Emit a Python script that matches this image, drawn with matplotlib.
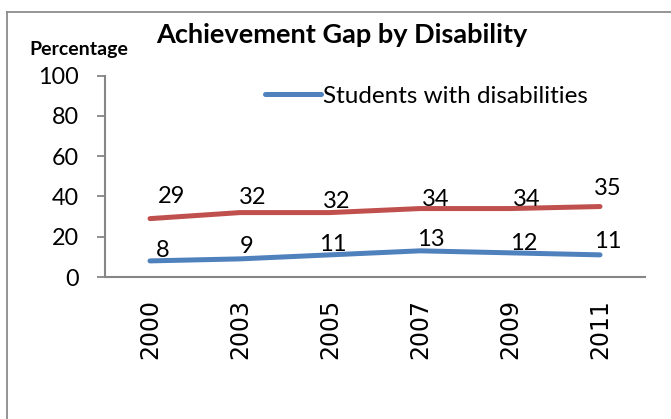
import matplotlib
matplotlib.use('Agg')
import matplotlib.pyplot as plt
from matplotlib.lines import Line2D

years = ['2000', '2003', '2005', '2007', '2009', '2011']
with_disab = [8, 9, 11, 13, 12, 11]
without_disab = [29, 32, 32, 34, 34, 35]
y_ticks = [0, 20, 40, 60, 80, 100]

# hand-placed data label nudges, in pixels (dx, dy)
red_nudge = [(22, 22), (13, 15), (7, 11), (16, 9), (17, 9), (8, 18)]
blue_nudge = [(13, 10), (7, 12), (3, 10), (11, 11), (14, 9), (8, 13)]

blue = '#4F81BD'
red = '#C0504D'
axis_gray = '#868686'

W, H = 671, 419
fig = plt.figure(figsize=(W / 100, H / 100), dpi=100)
fig.patch.set_facecolor('white')

# chart area border (right and bottom run off the canvas)
fig.add_artist(Line2D([6.5 / W, 6.5 / W], [0, (H - 12.5) / H], color='#8c8c8c', lw=1.3))
fig.add_artist(Line2D([6.5 / W, 1], [(H - 12.5) / H, (H - 12.5) / H], color='#8c8c8c', lw=1.3))

ax = fig.add_axes([105 / W, (H - 277) / H, 540 / W, 201.3 / H])
x = list(range(len(years)))

ax.plot(x, without_disab, color=red, lw=3.6, solid_capstyle='round')
ax.plot(x, with_disab, color=blue, lw=3.6, solid_capstyle='round',
        label='Students with disabilities')

for i, v in enumerate(without_disab):
    ax.annotate(str(v), (i, v), xytext=red_nudge[i], textcoords='offset pixels',
                ha='center', va='center', fontsize=17, family='Lato')
for i, v in enumerate(with_disab):
    ax.annotate(str(v), (i, v), xytext=blue_nudge[i], textcoords='offset pixels',
                ha='center', va='center', fontsize=17, family='Lato')

ax.set_xlim(-0.5, len(years) - 0.5)
ax.set_ylim(0, 100)
ax.set_yticks(y_ticks)
ax.set_yticklabels([str(t) for t in y_ticks], family='Lato', fontsize=16.8)
ax.set_xticks(x)
ax.set_xticklabels(years, rotation=90, fontsize=17, family='DejaVu Sans')
ax.tick_params(axis='y', length=5.5, width=1.3, color=axis_gray, pad=13)
ax.tick_params(axis='x', length=0, pad=16)

for s in ['top', 'right']:
    ax.spines[s].set_visible(False)
for s in ['left', 'bottom']:
    ax.spines[s].set_color(axis_gray)
    ax.spines[s].set_linewidth(1.5)

leg = ax.legend(loc='center left', bbox_to_anchor=(265 / W, (H - 96) / H),
                bbox_transform=fig.transFigure, frameon=False,
                prop={'family': 'Lato', 'size': 17.5},
                handlelength=2.3, handletextpad=0.1,
                borderpad=0, borderaxespad=0)

fig.text(342 / W, (H - 35) / H, 'Achievement Gap by Disability', ha='center',
         va='center', fontsize=19.5, fontweight='bold', family='Lato')
fig.text(79 / W, (H - 49) / H, 'Percentage', ha='center', va='center',
         fontsize=14, fontweight='bold', family='Lato')

fig.savefig('out.png', dpi=100)
